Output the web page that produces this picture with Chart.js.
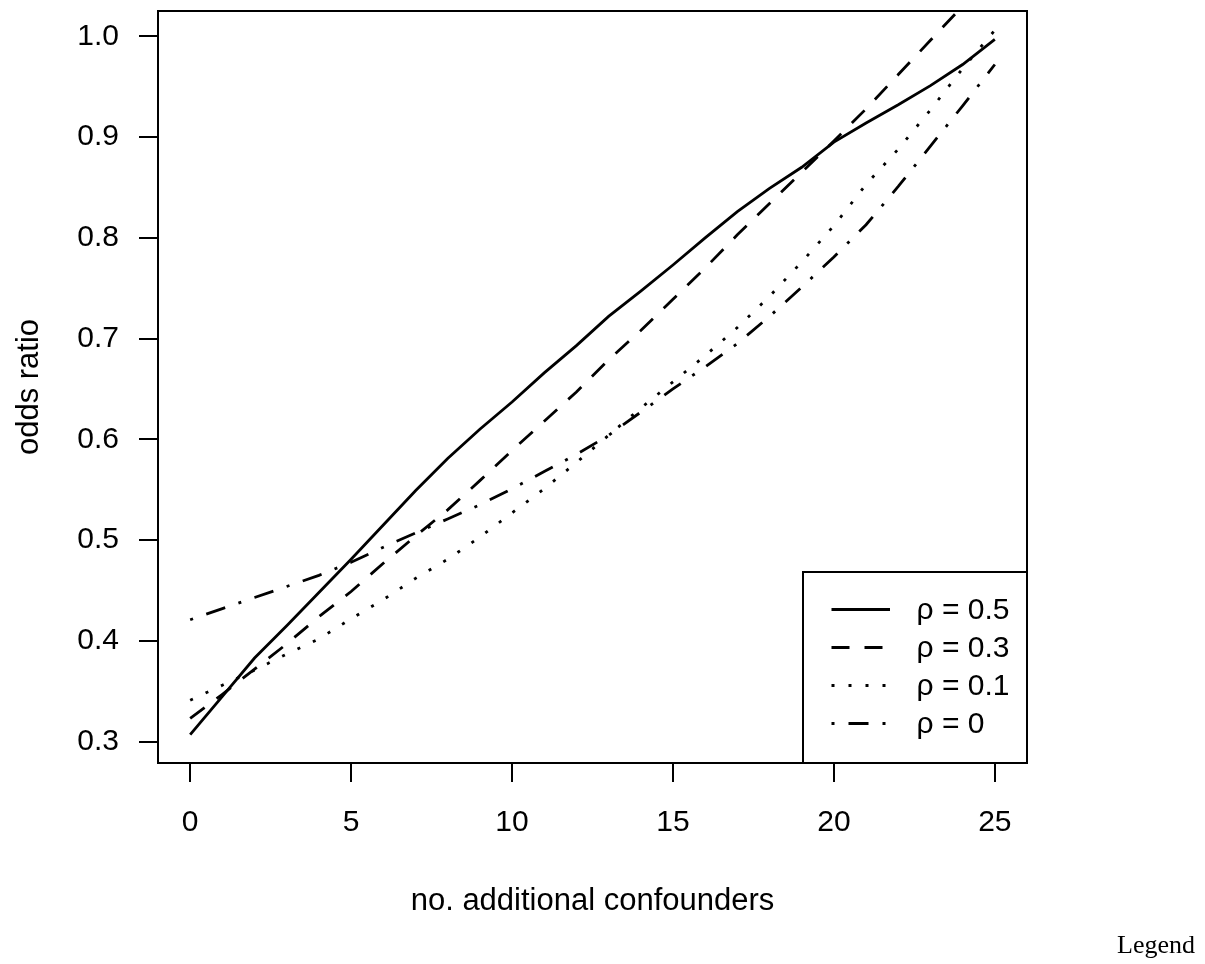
<!DOCTYPE html>
<html>
<head>
<meta charset="utf-8">
<script src="https://cdn.jsdelivr.net/npm/chart.js@4.4.1/dist/chart.umd.min.js"></script>
<style>
  html, body { margin: 0; padding: 0; background: #fff; }
  #wrap { position: relative; width: 1205px; height: 964px; }
  #note {
    position: absolute; right: 10px; top: 932px;
    font-family: "Liberation Serif", "Times New Roman", serif;
    font-size: 26px; line-height: 26px; color: #000;
  }
</style>
</head>
<body>
<div id="wrap">
  <canvas id="orChart" width="1205" height="964"></canvas>
  <div id="note">Legend</div>
</div>
<script>
// number of additional confounders
var confounders = [0, 1, 2, 3, 4, 5, 6, 7, 8, 9, 10, 11, 12, 13, 14, 15, 16, 17, 18, 19, 20, 21, 22, 23, 24, 25];

// odds ratio for each correlation
var rho05 = [0.307, 0.345, 0.383, 0.415, 0.448, 0.481, 0.515, 0.549, 0.581, 0.610, 0.637, 0.666, 0.693,
             0.722, 0.747, 0.773, 0.800, 0.826, 0.849, 0.870, 0.895, 0.914, 0.932, 0.951, 0.972, 0.997];
var rho03 = [0.323, 0.347, 0.372, 0.397, 0.424, 0.449, 0.477, 0.504, 0.530, 0.559, 0.589, 0.618, 0.647,
             0.679, 0.708, 0.739, 0.770, 0.803, 0.834, 0.865, 0.896, 0.928, 0.962, 0.996, 1.030, 1.065];
var rho01 = [0.341, 0.356, 0.371, 0.387, 0.402, 0.422, 0.441, 0.462, 0.481, 0.503, 0.527, 0.551, 0.577,
             0.604, 0.631, 0.657, 0.683, 0.711, 0.742, 0.776, 0.812, 0.853, 0.888, 0.927, 0.968, 1.006];
var rho0  = [0.421, 0.432, 0.443, 0.454, 0.465, 0.478, 0.493, 0.507, 0.521, 0.535, 0.551, 0.568, 0.585,
             0.604, 0.627, 0.650, 0.672, 0.695, 0.722, 0.751, 0.781, 0.813, 0.851, 0.891, 0.931, 0.972];

var seriesLabels = ['ρ = 0.5', 'ρ = 0.3', 'ρ = 0.1', 'ρ = 0'];
var xTickValues = [0, 5, 10, 15, 20, 25];
var yTickValues = [0.3, 0.4, 0.5, 0.6, 0.7, 0.8, 0.9, 1.0];

function toPoints(values) {
    return confounders.map(function (x, i) { return {x: x, y: values[i]}; });
}

Chart.defaults.font.family = '"Liberation Sans", Arial, sans-serif';
Chart.defaults.color = '#000';

// R style frame round the plot + legend box in the bottom right corner
var frameLegend = {
    id: 'frameLegend',
    afterDraw: function (chart) {
        var ctx = chart.ctx, a = chart.chartArea;
        var lx = a.right - 224, ly = a.bottom - 191;
        ctx.save();
        ctx.fillStyle = '#fff';
        ctx.fillRect(lx, ly, a.right - lx, a.bottom - ly);
        ctx.strokeStyle = '#000';
        ctx.lineWidth = 2;
        ctx.strokeRect(lx, ly, a.right - lx, a.bottom - ly);
        chart.data.datasets.forEach(function (ds, i) {
            var y = ly + 37.5 + i * 38;
            ctx.setLineDash(ds.borderDash || []);
            ctx.lineWidth = ds.borderWidth;
            ctx.beginPath();
            ctx.moveTo(lx + 28.5, y);
            ctx.lineTo(lx + 87, y);
            ctx.stroke();
            ctx.setLineDash([]);
            ctx.fillStyle = '#000';
            ctx.font = '30px "Liberation Sans", Arial, sans-serif';
            ctx.textAlign = 'left';
            ctx.textBaseline = 'middle';
            ctx.fillText(ds.label, lx + 113.5, y + 1.5);
        });
        ctx.lineWidth = 2;
        ctx.strokeRect(a.left, a.top, a.right - a.left, a.bottom - a.top);
        ctx.restore();
    }
};

var lineData = {
    datasets: [
        {label: seriesLabels[0], data: toPoints(rho05), borderDash: []},
        {label: seriesLabels[1], data: toPoints(rho03), borderDash: [18, 15]},
        {label: seriesLabels[2], data: toPoints(rho01), borderDash: [3, 14]},
        {label: seriesLabels[3], data: toPoints(rho0), borderDash: [3, 14, 20, 14]}
    ].map(function (ds) {
        ds.borderColor = '#000';
        ds.borderWidth = 2.8;
        ds.pointRadius = 0;
        ds.tension = 0;
        ds.fill = false;
        return ds;
    })
};

var lineOptions = {
    responsive: false,
    animation: false,
    devicePixelRatio: 1,
    layout: {padding: {top: 11, right: 178, bottom: 0, left: 0}},
    plugins: {legend: {display: false}, tooltip: {enabled: false}},
    scales: {
        x: {
            type: 'linear',
            position: 'bottom',
            min: -1,
            max: 26,
            afterBuildTicks: function (s) { s.ticks = xTickValues.map(function (v) { return {value: v}; }); },
            afterFit: function (s) { s.height = 201; s.paddingLeft = 0; s.paddingRight = 0; },
            ticks: {font: {size: 30}, padding: 23, maxRotation: 0, callback: function (v) { return String(v); }},
            grid: {drawOnChartArea: false, drawTicks: true, tickLength: 19, color: '#000', lineWidth: 2},
            border: {display: false},
            title: {display: true, text: 'no. additional confounders', font: {size: 31}, padding: {top: 0, bottom: 44}}
        },
        y: {
            type: 'linear',
            min: 0.2788,
            max: 1.0251,
            afterBuildTicks: function (s) { s.ticks = yTickValues.map(function (v) { return {value: v}; }); },
            afterFit: function (s) { s.width = 158; s.paddingTop = 0; s.paddingBottom = 0; },
            ticks: {font: {size: 30}, padding: 20, callback: function (v) { return v.toFixed(1); }},
            grid: {drawOnChartArea: false, drawTicks: true, tickLength: 19, color: '#000', lineWidth: 2},
            border: {display: false},
            title: {display: true, text: 'odds ratio', font: {size: 31}, padding: {top: 11, bottom: 0}}
        }
    }
};

var ctx = document.getElementById('orChart').getContext('2d');
new Chart(ctx, {type: 'line', data: lineData, options: lineOptions, plugins: [frameLegend]});
</script>
</body>
</html>
